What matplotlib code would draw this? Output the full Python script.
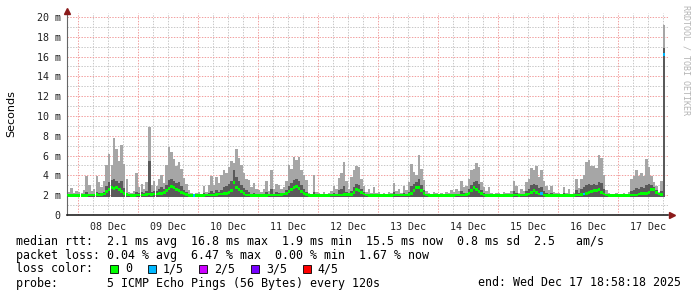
### Smokeping style latency chart (10 days)

import matplotlib
matplotlib.use("Agg")
import matplotlib.pyplot as plt
import matplotlib.dates as mdates
from matplotlib.patches import Rectangle
from matplotlib.ticker import MultipleLocator, FuncFormatter
import numpy as np
import pandas as pd


# DATA (hourly, ms) -- Dec 7 19:00 .. Dec 17 18:00
first_hour = "2025-12-07 19:00"

smoke_top = [
    2.6, 2.3, 2.7, 2.2, 2.4,
    # Dec 8
    2.3, 2.2, 2.5, 3.9, 3.0, 2.4, 2.6, 3.9, 3.3, 2.8, 3.4, 5.1,
    6.2, 5.0, 7.8, 6.7, 5.5, 7.1, 5.2, 3.6, 2.3, 2.2, 2.4, 4.2,
    # Dec 9
    2.8, 3.1, 2.6, 3.3, 8.9, 3.0, 3.4, 2.9, 3.6, 4.0, 3.2, 5.0,
    6.9, 6.4, 5.7, 4.9, 5.4, 4.6, 3.7, 3.1, 2.5, 2.2, 2.1, 2.2,
    # Dec 10
    2.3, 2.1, 2.9, 2.3, 3.0, 3.9, 3.0, 3.8, 3.2, 4.0, 4.5, 4.2,
    4.8, 5.5, 5.3, 6.7, 5.8, 5.0, 4.2, 3.6, 3.5, 2.8, 3.2, 2.6,
    # Dec 11
    2.5, 2.3, 2.6, 3.4, 2.4, 4.5, 2.6, 3.1, 3.0, 2.6, 2.8, 3.4,
    5.0, 4.6, 5.9, 5.6, 5.9, 4.5, 4.0, 3.5, 2.2, 2.1, 4.0, 2.3,
    # Dec 12
    2.2, 2.1, 2.3, 2.1, 2.2, 2.4, 2.9, 2.6, 3.7, 4.2, 5.4, 3.4,
    2.6, 3.8, 4.5, 4.9, 4.8, 3.6, 2.9, 2.3, 2.6, 2.2, 2.8, 2.2,
    # Dec 13
    2.3, 2.1, 2.2, 2.1, 2.3, 2.2, 3.2, 2.4, 2.6, 2.2, 2.9, 2.5,
    3.3, 5.2, 4.3, 4.0, 6.1, 4.6, 3.5, 2.4, 2.2, 2.1, 2.3, 2.2,
    # Dec 14
    2.1, 2.2, 2.1, 2.3, 2.2, 2.5, 2.3, 2.6, 2.4, 3.4, 2.8, 2.9,
    3.6, 4.5, 4.6, 5.3, 4.8, 3.3, 2.8, 2.4, 2.8, 2.2, 2.1, 2.2,
    # Dec 15
    2.2, 2.1, 2.3, 2.2, 2.2, 2.4, 3.4, 2.9, 2.2, 2.6, 2.4, 3.3,
    3.6, 4.7, 4.5, 4.9, 3.8, 4.5, 3.4, 2.9, 2.5, 2.9, 2.3, 2.2,
    # Dec 16
    2.2, 2.1, 2.8, 2.2, 2.6, 2.1, 2.2, 3.6, 2.7, 3.6, 4.0, 5.4,
    5.6, 4.9, 4.9, 4.7, 6.1, 5.8, 4.0, 2.5, 2.2, 2.1, 2.1, 2.2,
    # Dec 17
    2.1, 2.1, 2.2, 2.1, 2.3, 3.6, 3.9, 4.5, 3.9, 4.2, 3.9, 5.7,
    4.8, 3.9, 3.3, 2.9, 2.3, 3.4, 19.2,
]

dark_top = [
    2.1, 2.05, 2.1, 2.05, 2.05,
    2.05, 2.05, 2.05, 2.3, 2.1, 2.05, 2.1, 2.3, 2.2, 2.15, 2.3, 2.9,
    3.3, 3.5, 3.6, 3.4, 3.2, 3.4, 2.7, 2.2, 2.1, 2.05, 2.1, 2.3,
    2.2, 2.3, 2.2, 2.4, 5.5, 2.3, 2.4, 2.4, 2.6, 2.8, 2.6, 3.0,
    3.5, 3.6, 3.4, 3.2, 3.3, 2.9, 2.5, 2.3, 2.1, 2.05, 2.05, 2.05,
    2.1, 2.05, 2.2, 2.05, 2.2, 2.4, 2.2, 2.5, 2.3, 2.5, 2.8, 2.9,
    3.1, 3.4, 4.5, 3.8, 3.4, 3.0, 2.7, 2.5, 2.3, 2.1, 2.2, 2.1,
    2.1, 2.05, 2.1, 2.3, 2.05, 2.6, 2.1, 2.3, 2.2, 2.1, 2.2, 2.5,
    2.9, 3.2, 3.5, 3.6, 3.4, 3.0, 2.6, 2.3, 2.05, 2.05, 2.3, 2.05,
    2.05, 2.05, 2.05, 2.05, 2.05, 2.1, 2.2, 2.1, 2.5, 2.6, 2.9, 2.3,
    2.1, 2.4, 2.8, 3.1, 3.0, 2.6, 2.3, 2.05, 2.1, 2.05, 2.1, 2.05,
    2.05, 2.05, 2.05, 2.05, 2.05, 2.05, 2.3, 2.1, 2.1, 2.05, 2.2, 2.1,
    2.3, 2.9, 3.1, 3.3, 3.6, 3.0, 2.5, 2.1, 2.05, 2.05, 2.05, 2.05,
    2.05, 2.05, 2.05, 2.05, 2.05, 2.05, 2.05, 2.05, 2.05, 2.4, 2.2, 2.2,
    2.6, 3.0, 3.3, 3.4, 3.1, 2.5, 2.2, 2.05, 2.1, 2.05, 2.05, 2.05,
    2.05, 2.05, 2.05, 2.05, 2.05, 2.05, 2.4, 2.2, 2.05, 2.1, 2.1, 2.4,
    2.6, 3.0, 3.1, 3.0, 2.7, 2.8, 2.4, 2.2, 2.1, 2.2, 2.05, 2.05,
    2.05, 2.05, 2.2, 2.05, 2.1, 2.05, 2.05, 2.5, 2.2, 2.6, 2.8, 3.0,
    3.1, 3.0, 3.1, 3.0, 3.3, 3.2, 2.6, 2.1, 2.05, 2.05, 2.05, 2.05,
    2.05, 2.05, 2.05, 2.05, 2.05, 2.4, 2.5, 2.7, 2.6, 2.8, 2.7, 3.0,
    3.1, 3.0, 2.8, 2.5, 2.2, 2.4, 16.9,
]

median = [
    2.0, 1.95, 1.95, 1.95, 1.95,
    1.95, 1.95, 1.95, 1.95, 2.0, 2.0, 2.0, 2.05, 2.0, 2.05, 2.1, 2.4,
    2.6, 2.8, 2.7, 2.8, 2.6, 2.4, 2.2, 2.05, 2.0, 1.95, 1.95, 2.0,
    2.0, 2.0, 2.0, 2.05, 2.1, 2.05, 2.1, 2.1, 2.15, 2.2, 2.3, 2.5,
    2.7, 2.9, 2.75, 2.6, 2.5, 2.3, 2.15, 2.05, 1.95, 1.95, 1.95, 1.95,
    1.95, 1.95, 1.95, 2.0, 2.0, 2.0, 2.0, 2.05, 2.1, 2.1, 2.15, 2.2,
    2.3, 2.5, 3.3, 2.8, 2.6, 2.4, 2.2, 2.0, 2.0, 1.95, 1.95, 1.95,
    1.95, 1.95, 1.95, 1.95, 2.0, 2.0, 2.0, 2.0, 2.0, 2.05, 2.1, 2.2,
    2.4, 2.6, 2.8, 2.9, 2.7, 2.4, 2.2, 2.05, 1.95, 1.95, 1.95, 1.95,
    1.95, 1.95, 1.95, 1.95, 1.95, 2.0, 2.0, 2.0, 2.0, 2.0, 2.05, 2.05,
    2.05, 2.05, 2.3, 2.6, 2.5, 2.3, 2.1, 2.0, 1.95, 1.95, 1.95, 1.95,
    1.95, 1.95, 1.95, 1.95, 1.95, 1.95, 2.0, 2.0, 2.0, 2.0, 2.0, 2.0,
    2.05, 2.2, 2.5, 2.75, 2.8, 2.5, 2.2, 2.0, 1.95, 1.95, 1.95, 1.95,
    1.95, 1.95, 1.95, 1.95, 1.95, 1.95, 1.95, 2.0, 2.0, 2.0, 2.0, 2.05,
    2.2, 2.5, 2.8, 2.6, 2.4, 2.15, 2.0, 1.95, 1.95, 1.95, 1.95, 1.95,
    1.95, 1.95, 1.95, 1.95, 1.95, 1.95, 2.0, 2.0, 1.95, 2.0, 2.0, 2.05,
    2.1, 2.3, 2.5, 2.3, 2.1, 2.2, 2.0, 1.95, 1.95, 1.95, 1.95, 1.95,
    1.95, 1.95, 1.95, 1.95, 1.95, 1.95, 1.95, 2.0, 2.0, 2.05, 2.1, 2.2,
    2.3, 2.4, 2.45, 2.5, 2.6, 2.3, 2.1, 2.0, 1.95, 1.95, 1.95, 1.95,
    1.95, 1.95, 1.95, 1.95, 1.95, 2.0, 2.0, 2.0, 2.1, 2.15, 2.2, 2.2,
    2.3, 2.6, 2.55, 2.3, 2.1, 2.05, 16.2,
]
smoke_floor = 1.85

# hours where 1 of 5 pings was lost
loss_1of5 = ["2025-12-09 22:00", "2025-12-15 17:00", "2025-12-16 10:00", "2025-12-17 18:00"]

loss_labels = ["0", "1/5", "2/5", "3/5", "4/5"]
loss_colors = ["#00ff00", "#00b8ff", "#cc00ff", "#7700ff", "#ff0000"]

stats_lines = [
    "median rtt:  2.1 ms avg  16.8 ms max  1.9 ms min  15.5 ms now  0.8 ms sd  2.5   am/s",
    "packet loss: 0.04 % avg  6.47 % max  0.00 % min  1.67 % now",
]
probe_text = "probe:       5 ICMP Echo Pings (56 Bytes) every 120s"
end_text = "end: Wed Dec 17 18:58:18 2025"

W, H = 697, 297
MONO = "DejaVu Sans Mono"

times = pd.date_range(first_hour, periods=len(median), freq="h")
t = mdates.date2num(times.to_pydatetime())
width = 1 / 24
med = np.array(median)
col = [loss_colors[1] if ts in pd.to_datetime(loss_1of5) else loss_colors[0] for ts in times]

fig = plt.figure(figsize=(W / 100, H / 100), dpi=100)
ax = fig.add_axes([66.5 / W, 82 / H, (668 - 66.5) / W, 202 / H])

ax.bar(t, np.array(smoke_top) - smoke_floor, bottom=smoke_floor, width=width,
       align="edge", color="#a6a6a6", lw=0, zorder=2)
ax.bar(t, np.array(dark_top) - smoke_floor, bottom=smoke_floor, width=width,
       align="edge", color="#5a5a5a", lw=0, zorder=3)
ax.bar(t, 0.26, bottom=med - 0.13, width=width, align="edge", color=col, lw=0, zorder=4)

left = mdates.date2num(pd.Timestamp("2025-12-08")) - 4.6 / 24
ax.set_xlim(left, left + (668 - 66.5) / 2.5 / 24)
ax.set_ylim(0, 20.4)

# grid
ax.xaxis.set_major_locator(mdates.DayLocator())
ax.xaxis.set_minor_locator(mdates.HourLocator(byhour=[6, 12, 18]))
ax.xaxis.set_major_formatter(FuncFormatter(lambda v, p: ""))
ax.xaxis.set_minor_formatter(FuncFormatter(
    lambda v, p: mdates.num2date(v).strftime("%d %b") if mdates.num2date(v).hour == 12 else ""))
ax.yaxis.set_major_locator(MultipleLocator(2))
ax.yaxis.set_minor_locator(MultipleLocator(1))
ax.yaxis.set_major_formatter(FuncFormatter(lambda v, p: "0" if v == 0 else f"{v:.0f} m"))

dots = (0, (1.4, 1.4))
ax.grid(which="major", color="#f2a0a0", linestyle=dots, lw=0.72)
ax.grid(which="minor", color="#c8c8c8", linestyle=dots, lw=0.72)
ax.set_axisbelow(True)

ax.tick_params(which="both", length=0, labelsize=7.2, colors="#222222")
ax.tick_params(axis="y", pad=4.3)
ax.tick_params(axis="x", which="minor", pad=5)
for lab in ax.get_xticklabels(minor=True) + ax.get_yticklabels():
    lab.set_family(MONO)

for s in ["top", "right"]:
    ax.spines[s].set_visible(False)
ax.spines["left"].set_color("#666666")
ax.spines["bottom"].set_color("#222222")
ax.spines["bottom"].set_linewidth(1.2)
ax.plot([1.006], [0], marker=">", ms=5, color="#8b1a1a", transform=ax.transAxes, clip_on=False, zorder=6)
ax.plot([0], [1.012], marker="^", ms=5, color="#8b1a1a", transform=ax.transAxes, clip_on=False, zorder=6)

ax.set_ylabel("Seconds", fontsize=8, family="DejaVu Sans")
ax.yaxis.set_label_coords((16 - 66.5) / (668 - 66.5), 0.5)

fig.text(686 / W, 1 - 60 / H, "RRDTOOL / TOBI OETIKER", rotation=270, family=MONO,
         fontsize=6, color="#b4b4b4", ha="center", va="center")

# legend block
for i, line in enumerate(stats_lines):
    fig.text(16 / W, 1 - (241 + 14 * i) / H, line, family=MONO, fontsize=8.4, va="center")
fig.text(16 / W, 1 - 269 / H, "loss color:", family=MONO, fontsize=8.4, va="center")
x = 110
for lab, c in zip(loss_labels, loss_colors):
    fig.add_artist(Rectangle((x / W, 1 - 273 / H), 8 / W, 8 / H, transform=fig.transFigure,
                             facecolor=c, edgecolor="black", lw=0.6))
    fig.text((x + 15) / W, 1 - 269 / H, lab, family=MONO, fontsize=8.4, va="center")
    x = x + 15 + len(lab) * 7.08 + 15.5
fig.text(16 / W, 1 - 283 / H, probe_text, family=MONO, fontsize=8.4, va="center")
fig.text(681 / W, 1 - 283 / H, end_text, family=MONO, fontsize=8.4, va="center", ha="right")

fig.savefig("out.png", dpi=100)
